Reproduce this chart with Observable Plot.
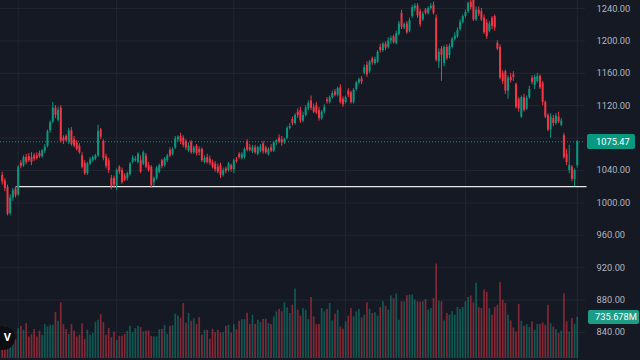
<!DOCTYPE html>
<html><head><meta charset="utf-8">
<script src="https://cdn.jsdelivr.net/npm/d3@7"></script>
<script src="https://cdn.jsdelivr.net/npm/@observablehq/plot@0.6"></script>
<style>
html,body{margin:0;padding:0;background:#151924;overflow:hidden}
#wrap{position:relative;width:640px;height:360px;background:#151924}
#wrap svg{position:absolute;left:0;top:0}
.tag{position:absolute;left:587px;color:#fff;font-family:Roboto,sans-serif;font-size:9.3px;border-radius:2px;box-sizing:border-box;padding-left:9px}
#logo{position:absolute;left:-9px;top:326px;width:24px;height:24px;border-radius:50%;background:#0c0e14;color:#fff;font:bold 11px Roboto,sans-serif;line-height:24px;text-align:right;padding-right:4px;box-sizing:border-box}
</style></head><body><div id="wrap"></div>
<script>
const opens = [1034,1027,1019,987,1006,1017,1010,1049,1046,1056,1057,1056,1058,1058,1061,1057,1064,1070,1089,1100,1117,1102,1117,1080,1082,1075,1089,1078,1074,1070,1058,1049,1036,1048,1052,1054,1058,1090,1076,1057,1052,1030,1030,1021,1044,1040,1033,1030,1035,1050,1052,1050,1052,1048,1058,1046,1044,1025,1030,1038,1052,1046,1052,1065,1060,1068,1078,1082,1080,1076,1064,1075,1062,1070,1066,1066,1050,1056,1054,1050,1048,1044,1046,1034,1042,1040,1046,1041,1053,1060,1055,1056,1075,1068,1063,1068,1060,1064,1073,1068,1060,1068,1064,1074,1080,1078,1075,1080,1092,1103,1098,1112,1114,1101,1108,1116,1126,1118,1120,1114,1104,1112,1127,1124,1130,1137,1133,1142,1128,1124,1138,1136,1124,1140,1148,1153,1160,1170,1162,1178,1172,1174,1192,1188,1196,1192,1200,1205,1197,1208,1234,1216,1221,1212,1230,1240,1243,1236,1226,1238,1234,1240,1244,1228,1174,1190,1172,1192,1182,1192,1202,1205,1214,1223,1230,1236,1248,1250,1226,1238,1236,1228,1222,1212,1228,1230,1197,1192,1160,1162,1138,1155,1158,1146,1128,1106,1130,1116,1130,1154,1145,1150,1156,1148,1124,1108,1090,1104,1098,1106,1096,1083,1060,1040,1044,1029,1046];
const highs = [1038,1030,1022,1010,1018,1020,1046,1052,1058,1060,1061,1062,1061,1062,1064,1066,1072,1090,1101,1124,1120,1118,1120,1083,1084,1092,1093,1082,1077,1073,1062,1052,1050,1056,1058,1060,1096,1092,1078,1060,1055,1034,1033,1042,1046,1043,1036,1038,1050,1058,1057,1062,1058,1064,1061,1050,1046,1032,1045,1048,1054,1056,1060,1068,1068,1082,1083,1086,1083,1078,1074,1077,1070,1072,1069,1068,1058,1060,1058,1053,1051,1048,1049,1043,1044,1050,1048,1054,1056,1062,1062,1068,1078,1072,1071,1071,1070,1072,1076,1070,1068,1072,1076,1078,1084,1082,1080,1094,1098,1106,1110,1116,1118,1112,1120,1126,1132,1122,1124,1118,1114,1121,1130,1132,1138,1140,1143,1146,1131,1132,1141,1138,1141,1150,1154,1156,1170,1174,1176,1180,1180,1188,1196,1198,1199,1204,1206,1207,1212,1224,1238,1222,1224,1228,1244,1246,1246,1239,1236,1240,1242,1246,1248,1232,1190,1193,1194,1195,1196,1204,1210,1216,1226,1232,1238,1248,1252,1254,1242,1242,1240,1232,1226,1224,1230,1232,1200,1195,1163,1164,1157,1160,1162,1148,1130,1132,1134,1132,1144,1157,1158,1160,1158,1150,1126,1110,1110,1108,1110,1112,1104,1086,1066,1071,1046,1042,1077];
const lows = [1022,1014,984,984,1002,1006,1008,1042,1044,1047,1050,1046,1051,1053,1055,1055,1061,1068,1086,1098,1104,1100,1074,1072,1075,1072,1070,1068,1064,1060,1042,1034,1034,1046,1050,1052,1056,1078,1052,1042,1036,1016,1018,1015,1035,1023,1026,1027,1033,1048,1050,1048,1036,1046,1042,1038,1018,1020,1028,1036,1042,1044,1050,1056,1058,1066,1075,1072,1068,1065,1062,1060,1060,1058,1058,1050,1048,1048,1046,1042,1038,1036,1030,1032,1036,1038,1038,1036,1049,1054,1053,1054,1063,1063,1061,1060,1058,1062,1060,1060,1058,1062,1062,1071,1073,1070,1072,1078,1090,1095,1096,1104,1098,1099,1106,1114,1114,1110,1109,1101,1102,1110,1122,1122,1128,1131,1131,1122,1118,1122,1130,1122,1122,1138,1146,1146,1158,1155,1160,1170,1170,1172,1185,1186,1188,1190,1196,1196,1195,1206,1214,1214,1208,1210,1228,1236,1228,1217,1224,1232,1232,1238,1232,1174,1166,1150,1168,1176,1178,1190,1200,1203,1212,1221,1228,1234,1238,1224,1224,1230,1224,1208,1202,1210,1214,1212,1188,1152,1146,1134,1128,1148,1150,1116,1112,1104,1112,1114,1128,1146,1140,1148,1140,1120,1104,1088,1080,1094,1096,1098,1094,1054,1046,1036,1026,1020,1043];
const closes = [1026,1018,986,1006,1015,1009,1044,1045,1056,1050,1052,1050,1054,1055,1057,1064,1069,1088,1099,1117,1108,1114,1076,1076,1077,1089,1072,1070,1066,1062,1044,1036,1048,1053,1056,1058,1088,1081,1055,1045,1040,1020,1022,1040,1038,1025,1028,1036,1048,1055,1054,1060,1038,1062,1044,1040,1021,1030,1043,1046,1045,1054,1058,1058,1066,1079,1081,1075,1071,1068,1070,1062,1068,1061,1062,1052,1055,1050,1049,1044,1041,1038,1034,1040,1039,1048,1041,1052,1051,1056,1060,1066,1065,1065,1068,1062,1068,1069,1063,1062,1066,1064,1074,1077,1075,1074,1078,1092,1094,1098,1108,1108,1101,1108,1117,1123,1117,1112,1111,1104,1112,1118,1125,1130,1135,1133,1141,1124,1121,1130,1133,1124,1139,1148,1152,1149,1167,1158,1174,1173,1177,1186,1188,1196,1191,1200,1203,1198,1209,1221,1217,1220,1210,1225,1241,1243,1231,1220,1233,1234,1240,1243,1234,1176,1186,1182,1192,1178,1193,1202,1206,1213,1223,1230,1235,1246,1241,1226,1238,1233,1226,1210,1205,1221,1218,1216,1190,1154,1150,1138,1154,1151,1155,1118,1116,1130,1114,1129,1140,1149,1155,1156,1142,1124,1106,1090,1106,1098,1107,1100,1101,1056,1050,1046,1029,1040,1075.47];
const volumes = [450,574,515,395,371,335,533,574,503,622,383,425,515,383,485,413,604,562,592,592,820,664,993,604,515,425,604,485,383,413,616,341,503,413,443,646,682,784,640,413,533,371,473,323,395,395,431,485,574,461,533,574,551,473,485,491,395,383,383,515,515,586,431,574,586,790,754,718,981,622,802,664,706,604,730,413,503,503,341,521,461,503,455,461,574,592,455,604,515,664,694,694,808,604,772,604,682,640,694,700,622,604,742,832,874,832,993,904,802,951,1239,862,754,892,862,694,1089,742,604,604,892,832,874,981,670,790,862,562,521,652,754,892,742,832,874,724,772,993,880,802,814,754,910,1011,933,862,1113,1065,1149,682,1011,1011,1119,1131,1131,1041,1011,1005,1011,1053,862,892,1071,1687,1023,1011,670,802,772,832,772,910,880,910,1011,1089,1113,993,1340,910,892,1221,1179,892,772,910,951,1352,1041,981,772,670,544,473,963,664,574,604,551,652,503,610,604,634,592,951,622,562,515,443,491,1149,652,473,712,610,735.678];
const priceTicks = [840,880,920,960,1000,1040,1080,1120,1160,1200,1240];
const monthBars = [6,43,87,129,174,216];
const lastPrice = 1075.47;
const lastVolume = 735.678;
const support = [{level: 1020, from: 5.3, to: 219.5}];

const W = 640, H = 360, RIGHT = 55;
const xDomain = [-0.64, 219.1];
const priceDomain = [805.4, 1249.9];
const UP = "#089981", DOWN = "#f23645", GRID = "#222632";
const bars = closes.map((c, i) => ({i, o: opens[i], h: highs[i], l: lows[i], c, v: volumes[i]}));
const col = d => d.c >= d.o ? UP : DOWN;
// the last-price tag sits on top of the nearest tick label, so that label is not shown
const tickLabels = priceTicks.filter(t => Math.abs(t - lastPrice) > 12);

const pricePlot = Plot.plot({
  width: W, height: H, marginTop: 0, marginBottom: 0, marginLeft: 0, marginRight: RIGHT,
  x: {domain: xDomain, axis: null},
  y: {domain: priceDomain, axis: null},
  style: {background: "transparent", fontFamily: "Roboto, sans-serif", fontSize: "9.3px"},
  marks: [
    Plot.ruleY(priceTicks, {stroke: GRID, strokeWidth: 1}),
    Plot.ruleX(monthBars, {stroke: GRID, strokeWidth: 1}),
    Plot.ruleY([lastPrice], {stroke: UP, strokeDasharray: "1 2", strokeWidth: 1}),
    Plot.link(support, {x1: "from", x2: "to", y1: "level", y2: "level", stroke: "#e8e8ea", strokeWidth: 1.3}),
    Plot.ruleX(bars, {x: "i", y1: "l", y2: "h", stroke: col, strokeWidth: 1}),
    Plot.ruleX(bars, {x: "i", y1: "o", y2: "c", stroke: col, strokeWidth: 2}),
    Plot.text(tickLabels, {y: d => d, frameAnchor: "right", dx: 11, textAnchor: "start", text: d => d3.format(".2f")(d), fill: "#b2b5be"})
  ]
});

const volPlot = Plot.plot({
  width: W, height: H, marginTop: 0, marginBottom: 0, marginLeft: 0, marginRight: RIGHT,
  x: {domain: xDomain, axis: null},
  y: {domain: [0, 6383], range: [358, 0], axis: null},
  style: {background: "transparent"},
  marks: [
    Plot.ruleX(bars, {x: "i", y1: 0, y2: "v", stroke: col, strokeOpacity: 0.5, strokeWidth: 1.7})
  ]
});

const wrap = document.getElementById("wrap");
wrap.appendChild(pricePlot);
wrap.appendChild(volPlot);

function pos(plot, v) {
  const s = plot.scale("y");
  return s.apply ? s.apply(v) : d3.scaleLinear(s.domain, s.range)(v);
}
const priceTag = document.createElement("div");
priceTag.className = "tag";
priceTag.textContent = lastPrice.toFixed(2);
priceTag.style.cssText = `top:${pos(pricePlot, lastPrice) - 7.5}px;width:48px;height:15px;line-height:15px;background:${UP}`;
wrap.appendChild(priceTag);

const volTag = document.createElement("div");
volTag.className = "tag";
volTag.textContent = lastVolume.toFixed(3) + "M";
volTag.style.cssText = `top:${pos(volPlot, lastVolume) - 7}px;left:588px;width:51px;height:14px;line-height:14px;padding-left:7px;background:#1f9c86`;
wrap.appendChild(volTag);

const logo = document.createElement("div");
logo.id = "logo";
logo.textContent = "V";
wrap.appendChild(logo);
</script>
</body></html>
